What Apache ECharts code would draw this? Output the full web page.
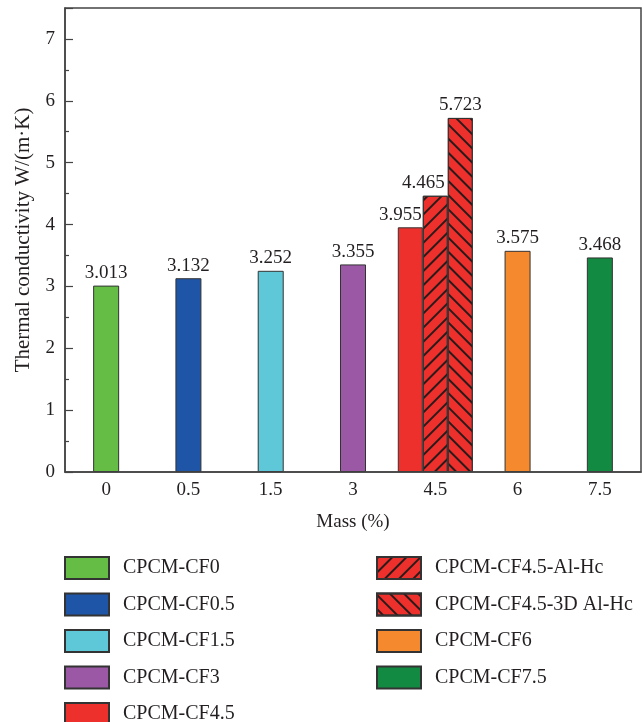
<!DOCTYPE html>
<html><head><meta charset="utf-8">
<script src="https://cdn.jsdelivr.net/npm/echarts@6/dist/echarts.min.js"></script>
<style>html,body{margin:0;padding:0;background:#fff}#c{width:643px;height:722px}</style>
</head><body><div id="c"></div>
<script>
const categories = ['0', '0.5', '1.5', '3', '4.5', '6', '7.5'];
const singleNames = ['CPCM-CF0', 'CPCM-CF0.5', 'CPCM-CF1.5', 'CPCM-CF3', 'CPCM-CF6', 'CPCM-CF7.5'];
const singleCats = ['0', '0.5', '1.5', '3', '6', '7.5'];
const singleValues = [3.013, 3.132, 3.252, 3.355, 3.575, 3.468];
const singleColors = ['#66bd45', '#1f55a6', '#5ec8d8', '#9b59a5', '#f5892e', '#138a42'];
const groupNames = ['CPCM-CF4.5', 'CPCM-CF4.5-Al-Hc', 'CPCM-CF4.5-3D Al-Hc'];
const groupValues = [3.955, 4.465, 5.723];
const groupColor = '#ee302d';
const yTicks = [0, 1, 2, 3, 4, 5, 6, 7];
const legendLeft = ['CPCM-CF0', 'CPCM-CF0.5', 'CPCM-CF1.5', 'CPCM-CF3', 'CPCM-CF4.5'];
const legendRight = ['CPCM-CF4.5-Al-Hc', 'CPCM-CF4.5-3D Al-Hc', 'CPCM-CF6', 'CPCM-CF7.5'];

const FONT = '"Liberation Serif", "DejaVu Serif", serif';
const AX = '#444';
const TXT = '#231f20';
function labelStyle(dx) {
  return {show: true, position: 'top', distance: 3, offset: [dx, 0], fontFamily: FONT, fontSize: 19, color: TXT,
    formatter: p => p.value.toFixed(3)};
}

const series = [];
singleNames.forEach((n, i) => {
  series.push({
    name: n, type: 'bar', xAxisIndex: 0, yAxisIndex: 0, barWidth: 26, barGap: '-100%',
    itemStyle: {color: singleColors[i], borderColor: '#333', borderWidth: 1},
    label: labelStyle(0), z: 2,
    data: categories.map(c => c === singleCats[i] ? singleValues[i] : '-')
  });
});
const decals = [null,
  {symbol: 'rect', symbolSize: 1, color: '#2a1a1a', dashArrayX: [1, 0], dashArrayY: [1.3, 7.5], rotation: -Math.PI / 4},
  {symbol: 'rect', symbolSize: 1, color: '#2a1a1a', dashArrayX: [1, 0], dashArrayY: [1.3, 7.5], rotation: Math.PI / 4}];
const groupLabelDx = [-10, -12, 0];
groupNames.forEach((n, i) => {
  const st = {color: groupColor, borderColor: '#333', borderWidth: 1};
  if (decals[i]) st.decal = decals[i];
  series.push({
    name: n, type: 'bar', xAxisIndex: 1, yAxisIndex: 0, barWidth: 25, barGap: '0%',
    itemStyle: st, label: labelStyle(groupLabelDx[i]), z: 2 + i,
    data: categories.map(c => c === '4.5' ? groupValues[i] : '-')
  });
});

const legendText = {fontFamily: FONT, fontSize: 20, color: TXT, padding: [0, 0, 0, 9]};
const legendCommon = {orient: 'vertical', top: 556, height: 200, itemWidth: 44, itemHeight: 22, itemGap: 12.5,
  icon: 'rect', padding: 0, textStyle: legendText};
const chart = echarts.init(document.getElementById('c'));
chart.setOption({
  animation: false,
  aria: {enabled: false},
  grid: {left: 65, top: 8, right: 2, bottom: 250, show: true, borderColor: AX, borderWidth: 1.5, backgroundColor: 'transparent'},
  legend: [
    Object.assign({data: legendLeft, left: 64}, legendCommon),
    Object.assign({data: legendRight, left: 376}, legendCommon)
  ],
  xAxis: [
    {type: 'category', data: categories, position: 'bottom', z: 5,
     name: 'Mass (%)', nameLocation: 'middle', nameGap: 41,
     nameTextStyle: {fontFamily: FONT, fontSize: 19, color: TXT},
     axisLine: {lineStyle: {color: AX, width: 1.5}},
     axisTick: {inside: true, alignWithLabel: true, length: 9, lineStyle: {color: AX, width: 1.2}},
     axisLabel: {fontFamily: FONT, fontSize: 19, color: TXT, margin: 9}},
    {type: 'category', data: categories, position: 'bottom', z: 5,
     axisLine: {show: false},
     axisTick: {inside: true, length: 5, lineStyle: {color: AX, width: 1.2}},
     axisLabel: {show: false}}
  ],
  yAxis: [{
    type: 'value', min: 0, max: 7.5, interval: 1, z: 5,
    name: 'Thermal conductivity W/(m·K)', nameLocation: 'middle', nameGap: 31,
    nameTextStyle: {fontFamily: FONT, fontSize: 21, color: TXT},
    axisLine: {show: true, lineStyle: {color: AX, width: 1.5}},
    axisTick: {show: true, inside: true, length: 8, lineStyle: {color: AX, width: 1.2}},
    minorTick: {show: true, splitNumber: 2, length: 4, lineStyle: {color: AX, width: 1.2}},
    splitLine: {show: false},
    axisLabel: {fontFamily: FONT, fontSize: 19, color: TXT, margin: 10,
      formatter: v => yTicks.includes(v) ? String(v) : ''}
  }],
  series: series
});
</script></body></html>
